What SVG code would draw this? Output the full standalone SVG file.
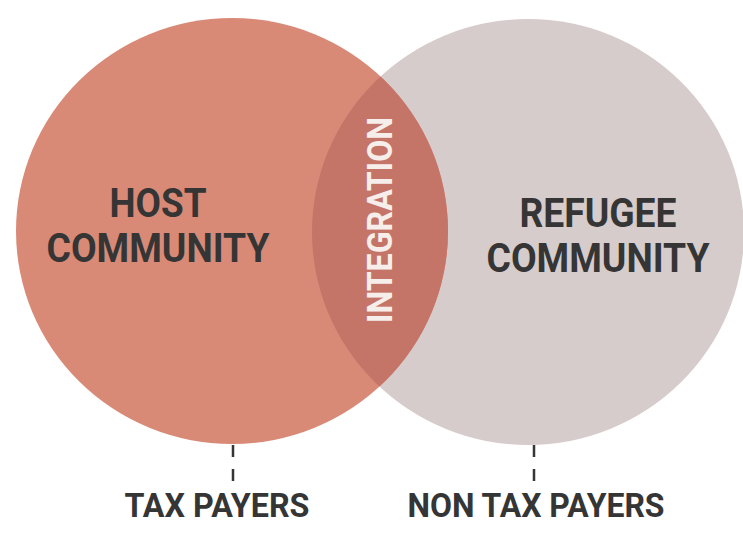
<svg xmlns="http://www.w3.org/2000/svg" width="743" height="541" viewBox="0 0 743 541">
  <style>
    .label { font-family: Roboto, "Liberation Sans", sans-serif; font-weight: 700; fill: #353535; text-anchor: middle; }
    .big { font-size: 41px; }
    .small { font-size: 33px; }
    .lens-text { font-family: Roboto, "Liberation Sans", sans-serif; font-weight: 700; font-size: 35px; fill: #F6EEEA; text-anchor: middle; }
    .tick { stroke: #353535; stroke-width: 2.5; stroke-dasharray: 12 12; fill: none; }
  </style>
  <defs>
    <clipPath id="hostClip">
      <ellipse cx="232" cy="231" rx="216" ry="213"/>
    </clipPath>
  </defs>
  <rect width="743" height="541" fill="#FFFFFF"/>

  <g id="refugee-community">
    <ellipse cx="528" cy="232" rx="216" ry="213" fill="#D6CCCB"/>
    <text class="label big" x="598" y="227" textLength="157" lengthAdjust="spacingAndGlyphs">REFUGEE</text>
    <text class="label big" x="598" y="272" textLength="223" lengthAdjust="spacingAndGlyphs">COMMUNITY</text>
  </g>

  <g id="host-community">
    <ellipse cx="232" cy="231" rx="216" ry="213" fill="#D98A77"/>
    <text class="label big" x="158" y="217" textLength="97" lengthAdjust="spacingAndGlyphs">HOST</text>
    <text class="label big" x="158" y="262" textLength="223" lengthAdjust="spacingAndGlyphs">COMMUNITY</text>
  </g>

  <g id="integration">
    <ellipse cx="528" cy="232" rx="216" ry="213" fill="#C57468" clip-path="url(#hostClip)"/>
    <text class="lens-text" transform="translate(392 220) rotate(-90)" x="0" y="0" textLength="206" lengthAdjust="spacingAndGlyphs">INTEGRATION</text>
  </g>

  <g id="connectors">
    <line class="tick" x1="233" y1="445" x2="233" y2="483"/>
    <line class="tick" x1="534" y1="445" x2="534" y2="483"/>
  </g>

  <g id="tax-payers">
    <text class="label small" x="217" y="517" textLength="185" lengthAdjust="spacingAndGlyphs">TAX PAYERS</text>
  </g>
  <g id="non-tax-payers">
    <text class="label small" x="536" y="517" textLength="257" lengthAdjust="spacingAndGlyphs">NON TAX PAYERS</text>
  </g>
</svg>
